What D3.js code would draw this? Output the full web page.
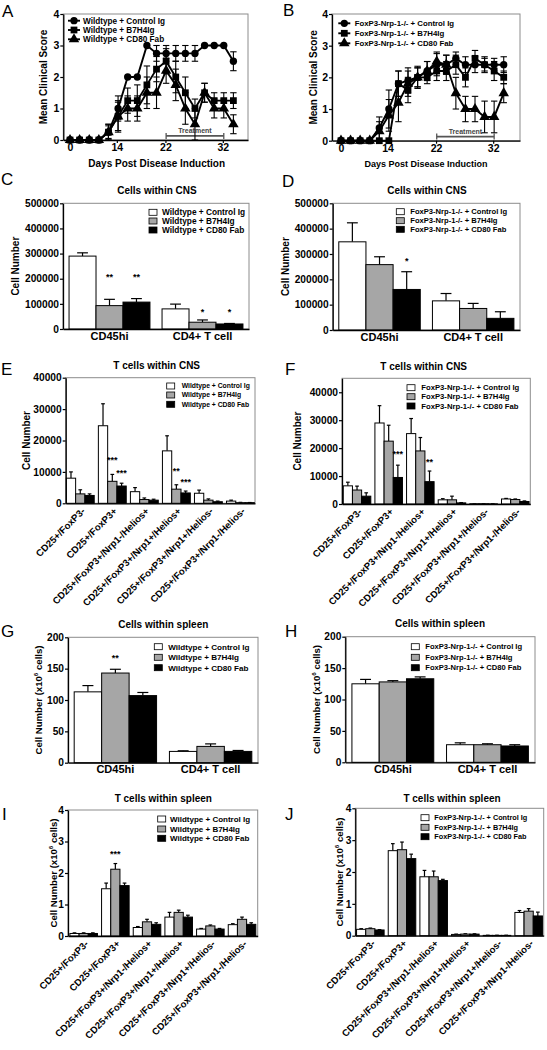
<!DOCTYPE html>
<html><head><meta charset="utf-8">
<script src="https://cdn.jsdelivr.net/npm/d3@7"></script>
<style>
body{margin:0;background:#fff}
svg{display:block}
</style></head><body>
<svg id="fig" width="547" height="1050"></svg>
<script>
// ---------------- DATA ----------------
const wtGroups = ["Wildtype + Control Ig", "Wildtype + B7H4Ig", "Wildtype + CD80 Fab"];
const koGroups = ["FoxP3-Nrp-1-/- + Control Ig", "FoxP3-Nrp-1-/- + B7H4Ig", "FoxP3-Nrp-1-/- + CD80 Fab"];

// clinical score time course (18 time points, index based)
const timeIndex = [0,1,2,3,4,5,6,7,8,9,10,11,12,13,14,15,16,17];
const dayTickLabels = ["0", "14", "22", "32"];
const dayTickIndex = [0, 4.87, 9.93, 15.9];
const scoreTicks = [0, 1, 2, 3, 4];
const treatmentSpan = [10, 16];

const aCtrl    = [0,0,0,0,0.25,1.0,2.0,2.0,3.0,2.75,2.75,2.75,2.75,2.75,3.0,3.0,3.0,2.5];
const aCtrlErr = [0,0,0,0,0.25,0.4,0,0,0,0.25,0.25,0.25,0.25,0.25,0.03,0.03,0.03,0.3];
const aB7      = [0,0,0,0,0.25,0.75,1.25,1.25,1.75,2.25,2.5,2.0,1.5,1.0,1.5,1.25,1.25,1.25];
const aB7Err   = [0,0,0,0,0.25,0.5,0.4,0.5,0.6,0.4,0.4,0.5,0.5,0.3,0.3,0.25,0.25,0.25];
const aCD80    = [0,0,0,0,0.25,0.75,1.0,1.0,1.5,1.5,2.2,1.75,1.0,0.5,1.5,1.0,1.0,0.5];
const aCD80Err = [0,0,0,0,0.2,0.45,0.4,0.4,0.5,0.5,0.4,0.5,0.5,0.5,0.3,0.3,0.3,0.3];

const bCtrl    = [0,0,0,0,0.4,1.0,1.8,1.9,2.0,2.2,2.4,2.4,2.6,2.4,2.4,2.4,2.4,2.4];
const bCtrlErr = [0,0,0,0,0.35,0.6,0.4,0.4,0.3,0.3,0.35,0.3,0.2,0.25,0.25,0.2,0.2,0.25];
const bB7      = [0,0,0,0,0,0,1.8,1.6,2.0,2.0,2.2,2.2,2.4,2.0,2.6,2.4,2.2,2.0];
const bB7Err   = [0,0,0,0,0,0,0.4,0.4,0.3,0.2,0.3,0.3,0.3,0.3,0.25,0.25,0.3,0.2];
const bCD80    = [0,0,0,0,0.3,0.8,1.2,1.8,2.0,2.2,2.5,2.4,1.5,1.0,1.0,0.75,0.75,1.5];
const bCD80Err = [0,0,0,0,0.3,0.5,0.6,0.4,0.35,0.3,0.3,0.3,0.5,0.4,0.4,0.5,0.5,0.3];

// cells within CNS
const cellCats = ["CD45hi", "CD4+ T cell"];
const cellTicks = [0, 100000, 200000, 300000, 400000, 500000];
const cCtrl = [290000, 80000],  cCtrlErr = [13000, 19000];
const cB7   = [93000, 27000],   cB7Err   = [25000, 9000];
const cCD80 = [107000, 20000],  cCD80Err = [14000, 2000];
const cStars = [{c:0,s:1,t:"**",v:195000},{c:0,s:2,t:"**",v:195000},{c:1,s:1,t:"*",v:57000},{c:1,s:2,t:"*",v:57000}];

const dCtrl = [348000, 115000], dCtrlErr = [75000, 29000];
const dB7   = [258000, 85000],  dB7Err   = [31000, 20000];
const dCD80 = [160000, 46000],  dCD80Err = [70000, 26000];
const dStars = [{c:0,s:2,t:"*",v:260000}];

// T cell subsets
const tCats = ["CD25+/FoxP3-", "CD25+/FoxP3+", "CD25+/FoxP3+/Nrp1-/Helios+", "CD25+/FoxP3+/Nrp1+/Helios+", "CD25+/FoxP3+/Nrp1+/Helios-", "CD25+/FoxP3+/Nrp1-/Helios-"];
const tcnsTicks = [0, 10000, 20000, 30000, 40000];
const eCtrl = [8000,24700,3700,16700,3200,700],  eCtrlErr = [2000,7000,1300,4800,1000,300];
const eB7   = [3000,7000,1200,4500,1000,200],    eB7Err   = [1300,2200,500,1400,400,100];
const eCD80 = [2500,5500,1000,3300,500,200],     eCD80Err = [500,900,300,600,200,50];
const eStars = [{c:1,s:1,t:"***",v:12800},{c:1,s:2,t:"***",v:8800},{c:3,s:1,t:"**",v:9300},{c:3,s:2,t:"***",v:5800}];

const fCtrl = [6500,29000,25200,1500,100,1800], fCtrlErr = [1300,6200,5400,400,50,200];
const fB7   = [5000,22500,19000,1500,100,1600], fB7Err   = [1400,5700,4800,1300,50,200];
const fCD80 = [2800,9500,8000,400,50,900],      fCD80Err = [1200,4400,3800,100,20,200];
const fStars = [{c:1,s:2,t:"***",v:16800},{c:2,s:2,t:"**",v:13800}];

// spleen
const spleenTicks = [0, 50, 100, 150, 200];
const gCtrl = [113, 18], gCtrlErr = [10, 1];
const gB7   = [143, 26], gB7Err   = [6, 4];
const gCD80 = [107, 18], gCD80Err = [5, 1.5];
const gStars = [{c:0,s:1,t:"**",v:162}];

const hCtrl = [125, 28], hCtrlErr = [7, 3];
const hB7   = [128, 28], hB7Err   = [2, 1.5];
const hCD80 = [133, 26], hCD80Err = [3, 2];

const tsplTicks = [0, 1, 2, 3, 4];
const iCtrl = [0.08,1.5,0.27,0.6,0.22,0.36],  iCtrlErr = [0.02,0.18,0.03,0.15,0.02,0.03];
const iB7   = [0.08,2.12,0.45,0.75,0.32,0.53], iB7Err  = [0.02,0.18,0.08,0.07,0.03,0.07];
const iCD80 = [0.08,1.6,0.37,0.6,0.22,0.37],  iCD80Err = [0.02,0.08,0.05,0.06,0.02,0.05];
const iStars = [{c:1,s:1,t:"***",v:2.5}];

const jCtrl = [0.2,2.67,1.85,0.04,0.01,0.73],  jCtrlErr = [0.02,0.22,0.2,0.01,0.005,0.06];
const jB7   = [0.22,2.7,1.85,0.05,0.01,0.77],  jB7Err   = [0.02,0.24,0.18,0.01,0.005,0.08];
const jCD80 = [0.18,2.42,1.73,0.05,0.01,0.62], jCD80Err = [0.01,0.14,0.04,0.01,0.005,0.12];

// ---------------- DRAWING ----------------
const FONT = '"Liberation Sans", Arial, Helvetica, sans-serif';
const fills = ["#ffffff", "#a6a6a6", "#000000"];
const symTypes = [d3.symbolCircle, d3.symbolSquare, d3.symbolTriangle];
const symSizes = [42, 46, 48];
const TICK_FS = 10.2;
const svg = d3.select("#fig").attr("font-family", FONT);
svg.append("rect").attr("width",547).attr("height",1050).attr("fill","#fff");

function txt(g, x, y, t, o = {}) {
  return g.append("text").attr("x", x).attr("y", y).text(t)
    .attr("font-size", o.fs || 10).attr("font-weight", o.fw || "bold")
    .attr("text-anchor", o.anchor || "start").attr("fill", o.fill || "#000");
}
function styleAxis(sel, fs) {
  sel.selectAll("path.domain").attr("stroke", "#000").attr("stroke-width", 1.3);
  sel.selectAll(".tick line").attr("stroke", "#000").attr("stroke-width", 1.2);
  sel.selectAll(".tick text").attr("font-size", fs).attr("font-weight", "bold").attr("font-family", FONT).attr("fill", "#000");
}
function yLabel(g, x, y, t, fs, sup) {
  const el = g.append("text").attr("transform", `translate(${x},${y}) rotate(-90)`)
    .attr("text-anchor", "middle").attr("dy", "0.35em").attr("font-size", fs).attr("font-weight", "bold");
  if (sup) {
    el.append("tspan").text("Cell Number (x10");
    el.append("tspan").text("6").attr("font-size", fs * 0.65).attr("dy", -4);
    el.append("tspan").text(" cells)").attr("dy", 4);
  } else el.text(t);
}

function linePanel(cfg) {
  const g = svg.append("g");
  const x = d3.scaleLinear().domain(cfg.xDomain).range([cfg.left, cfg.right]);
  const y = d3.scaleLinear().domain([0, 4]).range([cfg.bottom, cfg.top]);
  g.append("rect").attr("x", cfg.left).attr("y", cfg.top).attr("width", cfg.right - cfg.left)
    .attr("height", cfg.bottom - cfg.top).attr("fill", "none").attr("stroke", "#8c8c8c").attr("stroke-width", 1);
  // treatment bar
  const ty = y(cfg.treatLevel), tx0 = x(treatmentSpan[0]), tx1 = x(treatmentSpan[1]);
  g.append("line").attr("x1", tx0).attr("x2", tx1).attr("y1", ty).attr("y2", ty).attr("stroke", "#555").attr("stroke-width", 1.6);
  [tx0, tx1].forEach(tx => g.append("line").attr("x1", tx).attr("x2", tx).attr("y1", ty - 3).attr("y2", ty + 3).attr("stroke", "#555").attr("stroke-width", 1.3));
  txt(g, (tx0 + tx1) / 2, ty - 3, "Treatment", {fs: 7, anchor: "middle", fill: "#444"});
  // series
  cfg.series.forEach((s, k) => {
    const pts = timeIndex.map((t, i) => ({t, v: s.v[i], e: s.e[i]}));
    pts.filter(p => p.e > 0).forEach(p => {
      const cx = x(p.t), y1 = y(p.v + p.e), y2 = y(Math.max(0, p.v - p.e));
      g.append("line").attr("x1", cx).attr("x2", cx).attr("y1", y1).attr("y2", y2).attr("stroke", "#000").attr("stroke-width", 1.1);
      [y1, y2].forEach(yy => g.append("line").attr("x1", cx - 3.2).attr("x2", cx + 3.2).attr("y1", yy).attr("y2", yy).attr("stroke", "#000").attr("stroke-width", 1.1));
    });
    g.append("path").attr("d", d3.line().x(p => x(p.t)).y(p => y(p.v))(pts))
      .attr("fill", "none").attr("stroke", "#000").attr("stroke-width", 1.9);
    g.selectAll(null).data(pts).join("path")
      .attr("transform", p => `translate(${x(p.t)},${y(p.v)})`)
      .attr("d", d3.symbol(symTypes[k], symSizes[k])()).attr("fill", "#000");
  });
  const ya = g.append("g").attr("transform", `translate(${cfg.left},0)`)
    .call(d3.axisLeft(y).tickValues(scoreTicks).tickSize(3).tickSizeOuter(0).tickPadding(1).tickFormat(d3.format("d")));
  styleAxis(ya, 10.5);
  const xa = g.append("g").attr("transform", `translate(0,${cfg.bottom})`)
    .call(d3.axisBottom(x).tickValues(dayTickIndex).tickFormat((d, i) => dayTickLabels[i]).tickSize(3).tickSizeOuter(0).tickPadding(1));
  styleAxis(xa, 10.5);
  // legend
  cfg.names.forEach((n, k) => {
    const ly = cfg.legend.ys[k];
    g.append("line").attr("x1", cfg.legend.x - 6).attr("x2", cfg.legend.x + 6).attr("y1", ly).attr("y2", ly).attr("stroke", "#000").attr("stroke-width", 1.9);
    g.append("path").attr("transform", `translate(${cfg.legend.x},${ly})`).attr("d", d3.symbol(symTypes[k], symSizes[k])());
    txt(g, cfg.legend.tx, ly, n, {fs: cfg.legend.fs}).attr("dy", "0.35em");
  });
  txt(g, cfg.letter.x, cfg.letter.y, cfg.letter.t, {fs: 17, fw: "normal"});
  yLabel(g, cfg.ylabX, (cfg.top + cfg.bottom) / 2, "Mean Clinical Score", 10);
  txt(g, cfg.xlab.x, cfg.xlab.y, "Days Post Disease Induction", {fs: cfg.xlab.fs, anchor: "middle"});
}

function barPanel(cfg) {
  const g = svg.append("g");
  const x0 = d3.scaleBand().domain(cfg.cats).range([cfg.left, cfg.right]).paddingInner(cfg.padIn).paddingOuter(cfg.padOut);
  const x1 = d3.scaleBand().domain([0, 1, 2]).range([0, x0.bandwidth()]);
  const y = d3.scaleLinear().domain([0, cfg.yMax]).range([cfg.bottom, cfg.top]);
  g.append("rect").attr("x", cfg.left).attr("y", cfg.top).attr("width", cfg.right - cfg.left)
    .attr("height", cfg.bottom - cfg.top).attr("fill", "none").attr("stroke", "#8c8c8c").attr("stroke-width", 1);
  const rows = [];
  cfg.series.forEach((s, k) => cfg.cats.forEach((c, i) => rows.push({c, k, v: s.v[i], e: s.e[i]})));
  const bw = x1.bandwidth();
  // error bars (upward)
  rows.forEach(d => {
    const cx = x0(d.c) + x1(d.k) + bw / 2, yt = y(d.v + d.e);
    g.append("line").attr("x1", cx).attr("x2", cx).attr("y1", y(d.v)).attr("y2", yt).attr("stroke", "#000").attr("stroke-width", 1.2);
    g.append("line").attr("x1", cx - bw * 0.2).attr("x2", cx + bw * 0.2).attr("y1", yt).attr("y2", yt).attr("stroke", "#000").attr("stroke-width", 1.2);
  });
  g.selectAll(null).data(rows).join("rect")
    .attr("x", d => x0(d.c) + x1(d.k)).attr("y", d => y(d.v))
    .attr("width", bw).attr("height", d => cfg.bottom - y(d.v))
    .attr("fill", d => fills[d.k]).attr("stroke", "#000").attr("stroke-width", 1);
  // stars
  (cfg.stars || []).forEach(s => txt(g, x0(cfg.cats[s.c]) + x1(s.s) + bw / 2, y(s.v), s.t, {fs: 9, anchor: "middle"}));
  const ya = g.append("g").attr("transform", `translate(${cfg.left},0)`)
    .call(d3.axisLeft(y).tickValues(cfg.ticks).tickSize(3).tickSizeOuter(0).tickPadding(1).tickFormat(d3.format("d")));
  styleAxis(ya, TICK_FS);
  const xa = g.append("g").attr("transform", `translate(0,${cfg.bottom})`)
    .call(d3.axisBottom(x0).tickSize(0).tickSizeOuter(0).tickPadding(3));
  styleAxis(xa, cfg.rotate ? 9.6 : 11);
  if (cfg.rotate) {
    xa.selectAll(".tick text").attr("x", 0).attr("y", 0).attr("dy", "0.35em")
      .attr("text-anchor", "end").attr("transform", "translate(3,6) rotate(-45)");
  }
  // legend
  cfg.names.forEach((n, k) => {
    const ly = cfg.legend.ys[k];
    g.append("rect").attr("x", cfg.legend.bx).attr("y", ly - 3).attr("width", 8).attr("height", 6)
      .attr("fill", fills[k]).attr("stroke", "#000").attr("stroke-width", 0.8);
    txt(g, cfg.legend.tx, ly, n, {fs: cfg.legend.fs}).attr("dy", "0.35em");
  });
  txt(g, cfg.title.x, cfg.title.y, cfg.title.t, {fs: 10, anchor: "middle"});
  txt(g, cfg.letter.x, cfg.letter.y, cfg.letter.t, {fs: 17, fw: "normal"});
  yLabel(g, cfg.ylabX, (cfg.top + cfg.bottom) / 2, "Cell Number", cfg.sup ? 9.6 : 10, cfg.sup);
}

// ---- A, B
linePanel({left: 63.3, right: 248, top: 14, bottom: 140, xDomain: [-0.7, 18.52], treatLevel: 0.13,
  series: [{v: aCtrl, e: aCtrlErr}, {v: aB7, e: aB7Err}, {v: aCD80, e: aCD80Err}], names: wtGroups,
  legend: {x: 74, tx: 83, ys: [20.7, 30, 39.3], fs: 8.2}, letter: {t: "A", x: 2, y: 17}, ylabX: 43,
  xlab: {x: 156.7, y: 167, fs: 10}});
linePanel({left: 332, right: 520, top: 14, bottom: 140.7, xDomain: [-0.94, 18.7], treatLevel: 0.13,
  series: [{v: bCtrl, e: bCtrlErr}, {v: bB7, e: bB7Err}, {v: bCD80, e: bCD80Err}], names: koGroups,
  legend: {x: 344.3, tx: 354.7, ys: [23.3, 33.3, 43.3], fs: 7.8}, letter: {t: "B", x: 283, y: 16}, ylabX: 313.7,
  xlab: {x: 426, y: 167, fs: 9}});

// ---- C, D
barPanel({left: 63, right: 249, top: 203.3, bottom: 329, yMax: 500000, ticks: cellTicks, cats: cellCats, padIn: 0.13, padOut: 0.065,
  series: [{v: cCtrl, e: cCtrlErr}, {v: cB7, e: cB7Err}, {v: cCD80, e: cCD80Err}], names: wtGroups, stars: cStars,
  legend: {bx: 149, tx: 162, ys: [212.3, 221, 230], fs: 8.3}, title: {t: "Cells within CNS", x: 157, y: 194},
  letter: {t: "C", x: 1, y: 185}, ylabX: 15});
barPanel({left: 332.7, right: 520, top: 203.3, bottom: 330, yMax: 500000, ticks: cellTicks, cats: cellCats, padIn: 0.13, padOut: 0.065,
  series: [{v: dCtrl, e: dCtrlErr}, {v: dB7, e: dB7Err}, {v: dCD80, e: dCD80Err}], names: koGroups, stars: dStars,
  legend: {bx: 396.3, tx: 410.3, ys: [211.7, 220.7, 229.3], fs: 7.6}, title: {t: "Cells within CNS", x: 427, y: 194},
  letter: {t: "D", x: 282, y: 187}, ylabX: 285.3});

// ---- E, F
barPanel({left: 65.7, right: 255, top: 377.7, bottom: 503.3, yMax: 40000, ticks: tcnsTicks, cats: tCats, padIn: 0.13, padOut: 0.02, rotate: true,
  series: [{v: eCtrl, e: eCtrlErr}, {v: eB7, e: eB7Err}, {v: eCD80, e: eCD80Err}], names: wtGroups, stars: eStars,
  legend: {bx: 166.7, tx: 181.7, ys: [386, 395, 404.3], fs: 6.8}, title: {t: "T cells within CNS", x: 156.7, y: 368.5},
  letter: {t: "E", x: 1, y: 375}, ylabX: 26.5});
barPanel({left: 342, right: 530.3, top: 378.3, bottom: 504, yMax: 45000, ticks: tcnsTicks, cats: tCats, padIn: 0.13, padOut: 0.04, rotate: true,
  series: [{v: fCtrl, e: fCtrlErr}, {v: fB7, e: fB7Err}, {v: fCD80, e: fCD80Err}], names: koGroups, stars: fStars,
  legend: {bx: 407, tx: 421.3, ys: [387.7, 396.7, 406], fs: 7.7}, title: {t: "T cells within CNS", x: 423.7, y: 370},
  letter: {t: "F", x: 285, y: 375}, ylabX: 297.5});

// ---- G, H
barPanel({left: 68, right: 258, top: 637.3, bottom: 762.7, yMax: 200, ticks: spleenTicks, cats: cellCats, padIn: 0.135, padOut: 0.065,
  series: [{v: gCtrl, e: gCtrlErr}, {v: gB7, e: gB7Err}, {v: gCD80, e: gCD80Err}], names: wtGroups, stars: gStars,
  legend: {bx: 154.3, tx: 168.3, ys: [646.7, 657.3, 667.7], fs: 8.1}, title: {t: "Cells within spleen", x: 163.3, y: 628},
  letter: {t: "G", x: 1, y: 637}, ylabX: 38.5, sup: true});
barPanel({left: 345.3, right: 535, top: 636.7, bottom: 762.3, yMax: 200, ticks: spleenTicks, cats: cellCats, padIn: 0.135, padOut: 0.07,
  series: [{v: hCtrl, e: hCtrlErr}, {v: hB7, e: hB7Err}, {v: hCD80, e: hCD80Err}], names: koGroups,
  legend: {bx: 411.3, tx: 425.3, ys: [646.7, 657.3, 667.7], fs: 7.6}, title: {t: "Cells within spleen", x: 440, y: 627},
  letter: {t: "H", x: 285, y: 637}, ylabX: 316.5, sup: true});

// ---- I, J
barPanel({left: 68, right: 257.7, top: 810, bottom: 936, yMax: 4, ticks: tsplTicks, cats: tCats, padIn: 0.13, padOut: 0.06, rotate: true,
  series: [{v: iCtrl, e: iCtrlErr}, {v: iB7, e: iB7Err}, {v: iCD80, e: iCD80Err}], names: wtGroups, stars: iStars,
  legend: {bx: 157.7, tx: 170, ys: [819, 829, 838.3], fs: 8}, title: {t: "T cells within spleen", x: 163.3, y: 802},
  letter: {t: "I", x: 2, y: 820}, ylabX: 54, sup: true});
barPanel({left: 355.3, right: 543.7, top: 808.3, bottom: 935.7, yMax: 4, ticks: tsplTicks, cats: tCats, padIn: 0.13, padOut: 0.04, rotate: true,
  series: [{v: jCtrl, e: jCtrlErr}, {v: jB7, e: jB7Err}, {v: jCD80, e: jCD80Err}], names: koGroups,
  legend: {bx: 421, tx: 434.3, ys: [817.7, 827.3, 836.7], fs: 7.3}, title: {t: "T cells within spleen", x: 452, y: 802},
  letter: {t: "J", x: 285, y: 820}, ylabX: 340, sup: true});
</script>
</body></html>
